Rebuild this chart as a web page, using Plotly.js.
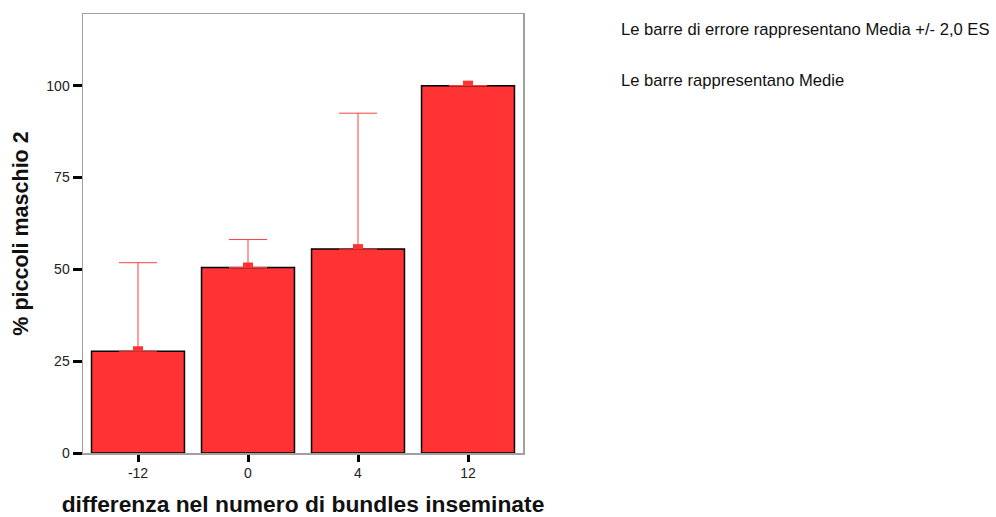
<!DOCTYPE html>
<html>
<head>
<meta charset="utf-8">
<script src="https://cdn.plot.ly/plotly-3.0.1.min.js"></script>
<style>
  html, body { margin: 0; padding: 0; background: #ffffff; }
  #chart { width: 996px; height: 517px; }
</style>
</head>
<body>
<div id="chart"></div>
<script>
// Categories: difference in the number of inseminated bundles
const categories = ['-12', '0', '4', '12'];
// Mean % of male offspring (second measure) per category
const means = [27.7, 50.5, 55.5, 100.0];
// Upper end of the error bar (mean + 2 SE)
const upperBounds = [51.8, 58.1, 92.5, 100.0];
// Y axis ticks
const yTicks = [0, 25, 50, 75, 100];

const red = '#ff3333';
const errPlus = means.map((m, i) => upperBounds[i] - m);

const barTrace = {
  type: 'bar',
  x: categories,
  y: means,
  marker: { color: red, line: { color: '#000000', width: 1.5 } },
  error_y: {
    type: 'data',
    symmetric: false,
    array: errPlus,
    arrayminus: means.map(() => 0),
    color: '#ff4040',
    thickness: 1,
    width: 19
  },
  hoverinfo: 'x+y'
};

// small mean markers sitting on top of each bar
const meanMarks = categories.map((c, i) => ({
  type: 'rect',
  layer: 'above',
  xref: 'x', yref: 'y',
  xsizemode: 'pixel', ysizemode: 'pixel',
  xanchor: i, yanchor: means[i],
  x0: -5, x1: 5, y0: 0, y1: 5,
  fillcolor: red,
  line: { width: 0 }
}));

const font = 'Arial, "Liberation Sans", Helvetica, sans-serif';

const layout = {
  width: 996,
  height: 517,
  margin: { l: 83, r: 473, t: 14, b: 64 },
  paper_bgcolor: '#ffffff',
  plot_bgcolor: '#ffffff',
  showlegend: false,
  bargap: 0.155,
  font: { family: font, color: '#222222', size: 14 },
  xaxis: {
    type: 'category',
    range: [-0.5, 3.5],
    showgrid: false,
    zeroline: false,
    showline: true,
    linecolor: '#a0a0a0',
    linewidth: 1.5,
    mirror: true,
    ticks: 'outside',
    ticklen: 7,
    tickwidth: 3,
    tickcolor: '#000000',
    tickfont: { family: font, size: 14, color: '#222222' },
    title: {
      text: 'differenza nel numero di bundles inseminate',
      font: { family: font, size: 22.8, color: '#111111', weight: 'bold' },
      standoff: 19
    }
  },
  yaxis: {
    range: [0, 119.5],
    tickvals: yTicks,
    ticktext: yTicks.map(String),
    showgrid: false,
    zeroline: false,
    showline: true,
    linecolor: '#a0a0a0',
    linewidth: 1.5,
    mirror: true,
    ticks: 'outside',
    ticklen: 9,
    tickwidth: 3,
    tickcolor: '#000000',
    tickfont: { family: font, size: 14, color: '#222222' },
    title: {
      text: '% piccoli maschio 2',
      font: { family: font, size: 21.5, color: '#111111', weight: 'bold' },
      standoff: 12
    }
  },
  shapes: meanMarks,
  annotations: [
    {
      xref: 'paper', yref: 'paper',
      x: (619 - 83) / 440, y: (453 - 30) / 439,
      xanchor: 'left', yanchor: 'middle',
      text: 'Le barre di errore rappresentano Media +/- 2,0 ES',
      showarrow: false,
      font: { family: font, size: 16.6, color: '#111111' }
    },
    {
      xref: 'paper', yref: 'paper',
      x: (619 - 83) / 440, y: (453 - 81) / 439,
      xanchor: 'left', yanchor: 'middle',
      text: 'Le barre rappresentano Medie',
      showarrow: false,
      font: { family: font, size: 16.6, color: '#111111' }
    }
  ]
};

Plotly.newPlot('chart', [barTrace], layout, { displayModeBar: false, staticPlot: true });
</script>
</body>
</html>
